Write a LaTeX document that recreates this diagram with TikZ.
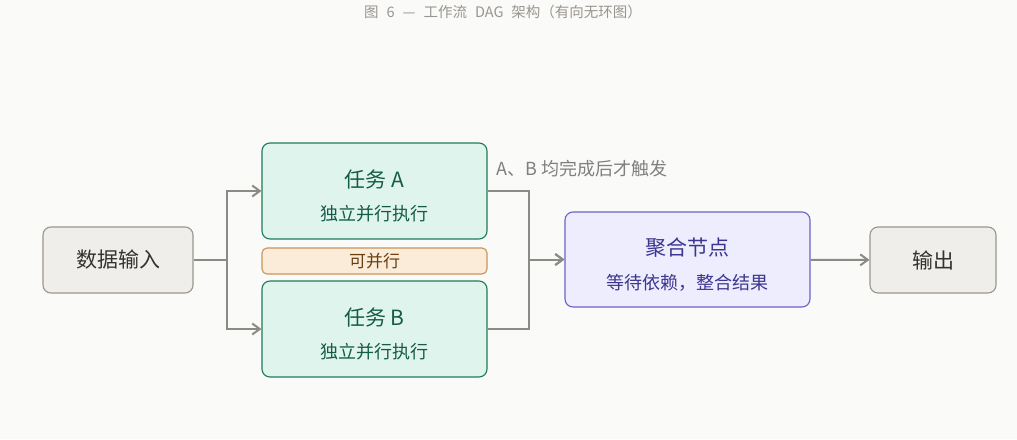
\documentclass[tikz,border=0pt]{standalone}
\usepackage{fontspec}
\setmainfont{Noto Sans CJK SC}
\usetikzlibrary{arrows.meta}

\definecolor{bgcol}{HTML}{FAFAF8}
\definecolor{linecol}{HTML}{8C8A84}
\definecolor{greyfill}{HTML}{F0EEEA}
\definecolor{greydraw}{HTML}{9A968F}
\definecolor{greentext}{HTML}{145C45}
\definecolor{greenfill}{HTML}{E0F4EE}
\definecolor{greendraw}{HTML}{1F7A5C}
\definecolor{orangefill}{HTML}{FBECDA}
\definecolor{orangedraw}{HTML}{C8955A}
\definecolor{orangetext}{HTML}{6B3E0E}
\definecolor{purplefill}{HTML}{EEEDFD}
\definecolor{purpledraw}{HTML}{6E60C8}
\definecolor{purpletext}{HTML}{3D3590}
\newcommand\titlefont{\fontsize{14.5}{17}\selectfont\spaceskip=8pt\relax}

\begin{document}
\begin{tikzpicture}[x=1pt, y=-1pt,
    box/.style={draw, rounded corners=8pt, line width=1.1pt, inner sep=0pt},
    io/.style={box, fill=greyfill, draw=greydraw, text=black!80, minimum width=150pt, minimum height=66pt, font=\fontsize{21}{25}\selectfont},
    task/.style={box, fill=greenfill, draw=greendraw, minimum width=225pt, minimum height=96pt},
    big/.style={font=\fontsize{21}{25}\selectfont, inner sep=0pt},
    small/.style={font=\fontsize{18}{21}\selectfont, inner sep=0pt},
    conn/.style={draw=linecol, line width=2pt, -{Straight Barb[length=7.5pt, width=11pt]}}]
    \fill[bgcol] (0,0) rectangle (1017,439);
    \useasboundingbox (0,0) rectangle (1017,439);
    \node[text=greydraw, font=\titlefont, inner sep=0pt] (title) at (503,12) {图 6 — 工作流 DAG 架构（有向无环图）};

    % nodes
    \node[io] (in) at (118,260) {数据输入};
    \node[task] (ta) at (374.5,191) {};
    \node[big, text=greentext] (taT) at (374.5,180) {任务 A};
    \node[small, text=greentext] (taS) at (374.5,214) {独立并行执行};
    \node[box, rounded corners=5pt, fill=orangefill, draw=orangedraw, text=orangetext, minimum width=225pt, minimum height=26pt, font=\fontsize{17}{20}\selectfont] (par) at (374.5,261) {可并行};
    \node[task] (tb) at (374.5,329) {};
    \node[big, text=greentext] (tbT) at (374.5,318) {任务 B};
    \node[small, text=greentext] (tbS) at (374.5,352) {独立并行执行};
    \node[box, fill=purplefill, draw=purpledraw, minimum width=245pt, minimum height=95pt] (agg) at (687.5,259.5) {};
    \node[big, text=purpletext] (aggT) at (687.5,248) {聚合节点};
    \node[small, text=purpletext] (aggS) at (687.5,283) {等待依赖，整合结果};
    \node[io, minimum width=126pt] (out) at (933,260) {输出};

    % connectors
    \draw[conn] (in.east) -- ++(33,0) |- (ta.west);
    \draw[conn] (in.east) -- ++(33,0) |- (tb.west);
    \draw[conn] (ta.east) -- ++(41,0) |- (agg.west);
    \draw[conn] (tb.east) -- ++(41,0) |- (agg.west);
    \draw[conn] (agg) -- (out);
    \node[small, text=black!50, anchor=west] (note) at (496,169) {A、B 均完成后才触发};
\end{tikzpicture}
\end{document}
